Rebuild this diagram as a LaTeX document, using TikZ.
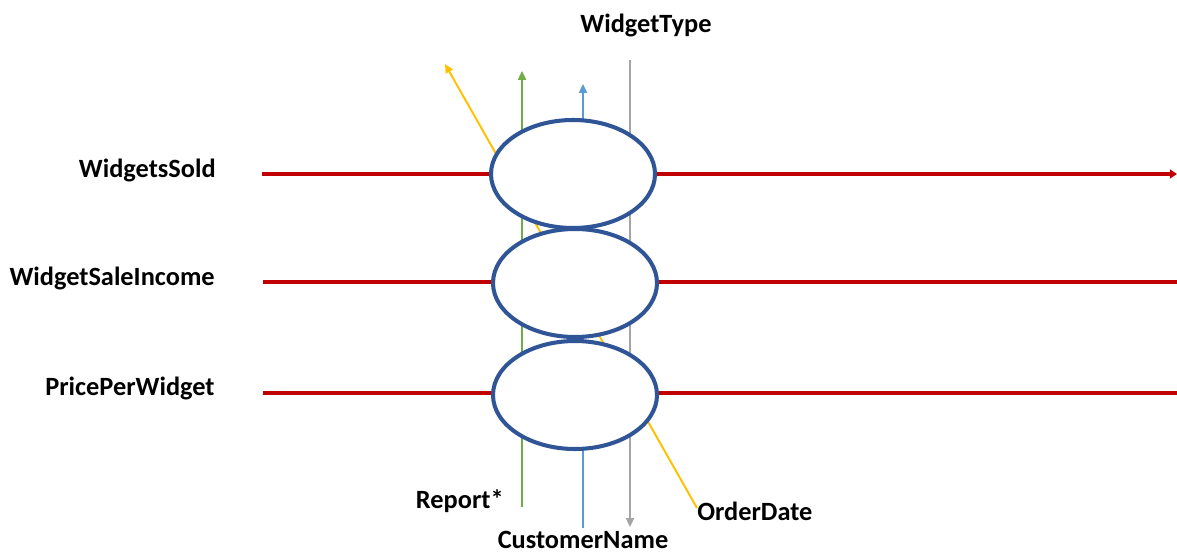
\documentclass[tikz,border=0pt]{standalone}
\usepackage{fontspec}
\setmainfont{Carlito}
\usetikzlibrary{arrows.meta,shapes.geometric}
\definecolor{cred}{HTML}{C00000}
\definecolor{cblue}{HTML}{2F5597}
\definecolor{cgreen}{HTML}{70AD47}
\definecolor{clblue}{HTML}{5B9BD5}
\definecolor{cgray}{HTML}{A5A5A5}
\definecolor{corange}{HTML}{FFC000}
\newlength{\pxu}
\setlength{\pxu}{0.02cm}
\tikzset{
  lbl/.style={font=\fontsize{15}{16}\selectfont\bfseries, inner sep=0pt},
  bub/.style={ellipse, draw=cblue, line width=2.3pt, fill=white, minimum width=164\pxu, minimum height=108\pxu, inner sep=0pt},
  redline/.style={draw=cred, line width=2pt},
  thin/.style={line width=1.1pt},
  tip/.style={-{Triangle[length=5pt,width=4.5pt]}}
}
\begin{document}
\begin{tikzpicture}[x=0.02cm,y=-0.02cm]
\useasboundingbox (0,0) rectangle (1177,554);
% labels
\node[lbl, anchor=east] (ws) at (216,170) {WidgetsSold};
\node[lbl, anchor=east] (wsi) at (215,278) {WidgetSaleIncome};
\node[lbl, anchor=east] (ppw) at (215,388) {PricePerWidget};
\node[lbl] (wt) at (646,25) {WidgetType};
\node[lbl, anchor=east] (rep) at (504,501) {Report*};
\node[lbl, anchor=west] (od) at (697,511) {OrderDate};
\node[lbl] (cn) at (583,540) {CustomerName};
% coordinates
\coordinate (r1a) at (262,174); \coordinate (r1b) at (1177,174);
\coordinate (r2a) at (263,282); \coordinate (r2b) at (1177,282);
\coordinate (r3a) at (263,393); \coordinate (r3b) at (1177,393);
\coordinate (gA) at (522,507); \coordinate (gB) at (522,71);
\coordinate (bA) at (583,528); \coordinate (bB) at (583,84);
\coordinate (yA) at (630,60); \coordinate (yB) at (630,527);
\coordinate (oA) at (697,508); \coordinate (oB) at (445,64);
% lines underneath
\draw[redline, -{Triangle[length=4pt,width=5pt]}] (r1a) -- (r1b);
\draw[redline] (r2a) -- (r2b);
\draw[redline] (r3a) -- (r3b);
\draw[thin, cgreen, tip] (gA) -- (gB);
\draw[thin, clblue, tip] (bA) -- (bB);
\draw[thin, cgray, tip] (yA) -- (yB);
\draw[thin, corange, tip] (oA) -- (oB);
% ellipses
\node[bub] (e1) at (573,174) {};
\node[bub] (e2) at (575,283) {};
\node[bub] (e3) at (575,395) {};
\end{tikzpicture}
\end{document}
